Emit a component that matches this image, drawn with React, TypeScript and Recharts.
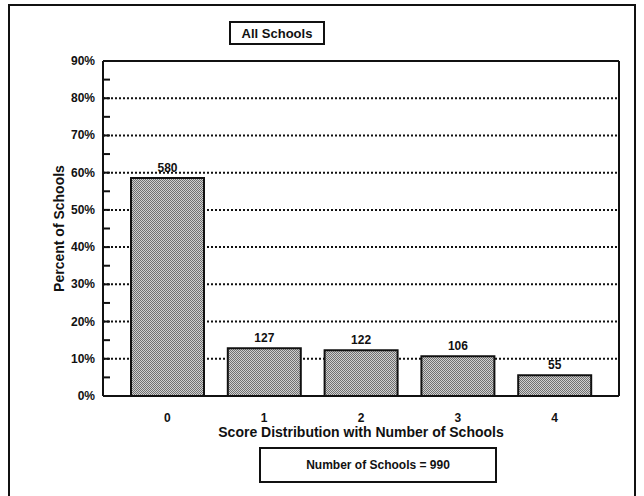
/* Score distribution bar chart, all schools. */

import { Bar, BarChart, LabelList, ReferenceLine, XAxis, YAxis } from "recharts";

const categories = ["0", "1", "2", "3", "4"];
const schoolCounts = [580, 127, 122, 106, 55];
const percentOfSchools = [58.6, 12.8, 12.3, 10.7, 5.6];
const yTicks = [0, 5, 10, 15, 20, 25, 30, 35, 40, 45, 50, 55, 60, 65, 70, 75, 80, 85, 90];
const gridValues = [10, 20, 30, 40, 50, 60, 70, 80];
const totalSchools = 990;

const data = categories.map((score, i) => ({
  score,
  count: schoolCounts[i],
  percent: percentOfSchools[i],
}));

const FONT = "Arial, 'Liberation Sans', sans-serif";
const INK = "#111";

function YTick(props: any) {
  const { x, y, payload } = props;
  const v = payload.value;
  return (
    <g>
      {v % 10 === 0 ? (
        <text x={x} y={y} dy={4} textAnchor="end" fontFamily={FONT} fontSize={12} fontWeight="bold" fill={INK}>
          {v}%
        </text>
      ) : null}
      {v > 0 && v < 90 ? <line x1={x + 8} x2={x + 15} y1={y} y2={y} stroke={INK} strokeWidth={2} /> : null}
    </g>
  );
}

// frame axes keep their ticks but draw nothing for them
const NoTick = () => <g />;

function Box({ left, top, width, height, text, size }: any) {
  return (
    <div
      style={{
        position: "absolute",
        left,
        top,
        width,
        height,
        boxSizing: "border-box",
        border: `2px solid ${INK}`,
        background: "#fff",
        display: "flex",
        alignItems: "center",
        justifyContent: "center",
        fontFamily: FONT,
        fontWeight: "bold",
        fontSize: size,
        color: INK,
      }}
    >
      {text}
    </div>
  );
}

export default function App() {
  return (
    <div style={{ position: "absolute", left: 0, top: 0, width: 644, height: 496, background: "#fff", overflow: "hidden" }}>
      <div
        style={{
          position: "absolute",
          left: 8,
          top: 4,
          width: 628,
          height: 520,
          boxSizing: "border-box",
          border: `2px solid ${INK}`,
        }}
      />
      <BarChart
        width={644}
        height={496}
        data={data}
        margin={{ top: 41, right: 5, bottom: 0, left: 0 }}
        barSize={73}
        style={{ position: "absolute", left: 0, top: 0 }}
      >
        <defs>
          <pattern id="stipple" width="2" height="2" patternUnits="userSpaceOnUse">
            <rect width="2" height="2" fill="#d0d0d0" />
            <rect width="1" height="1" fill="#707070" />
            <rect x="1" y="1" width="1" height="1" fill="#707070" />
          </pattern>
        </defs>
        <XAxis
          dataKey="score"
          height={100}
          padding={{ left: 16, right: 16 }}
          tickLine={false}
          tickSize={0}
          tickMargin={17}
          axisLine={{ stroke: INK, strokeWidth: 2 }}
          tick={{ fontFamily: FONT, fontSize: 12, fontWeight: "bold", fill: INK }}
          label={{
            value: "Score Distribution with Number of Schools",
            position: "insideTop",
            offset: 31,
            style: { fontFamily: FONT, fontSize: 14, fontWeight: "bold", fill: INK },
          }}
        />
        <XAxis
          xAxisId="frame"
          dataKey="score"
          orientation="top"
          height={20}
          padding={{ left: 16, right: 16 }}
          tick={NoTick}
          tickLine={false}
          axisLine={{ stroke: INK, strokeWidth: 2 }}
        />
        <YAxis
          width={103}
          domain={[0, 90]}
          ticks={yTicks}
          interval={0}
          tickLine={false}
          tickSize={0}
          tickMargin={8}
          axisLine={{ stroke: INK, strokeWidth: 2 }}
          tick={<YTick />}
          label={{
            value: "Percent of Schools",
            angle: -90,
            position: "insideLeft",
            offset: 59,
            style: { fontFamily: FONT, fontSize: 14, fontWeight: "bold", fill: INK, textAnchor: "middle" },
          }}
        />
        <YAxis
          yAxisId="frame"
          orientation="right"
          width={20}
          domain={[0, 90]}
          tick={NoTick}
          tickLine={false}
          axisLine={{ stroke: INK, strokeWidth: 2 }}
        />
        {gridValues.map((v) => (
          <ReferenceLine key={v} y={v} stroke={INK} strokeWidth={2} strokeDasharray="2 2" zIndex={-50} />
        ))}
        <ReferenceLine y={90} stroke={INK} strokeWidth={2} />
        <Bar dataKey="percent" fill="url(#stipple)" stroke={INK} strokeWidth={2} isAnimationActive={false}>
          <LabelList dataKey="count" position="top" offset={6} fontFamily={FONT} fontSize={12} fontWeight="bold" fill={INK} />
        </Bar>
      </BarChart>
      <Box left={229} top={21} width={96} height={24} text="All Schools" size={13} />
      <Box left={259} top={447} width={238} height={36} text={`Number of Schools = ${totalSchools}`} size={12} />
    </div>
  );
}
